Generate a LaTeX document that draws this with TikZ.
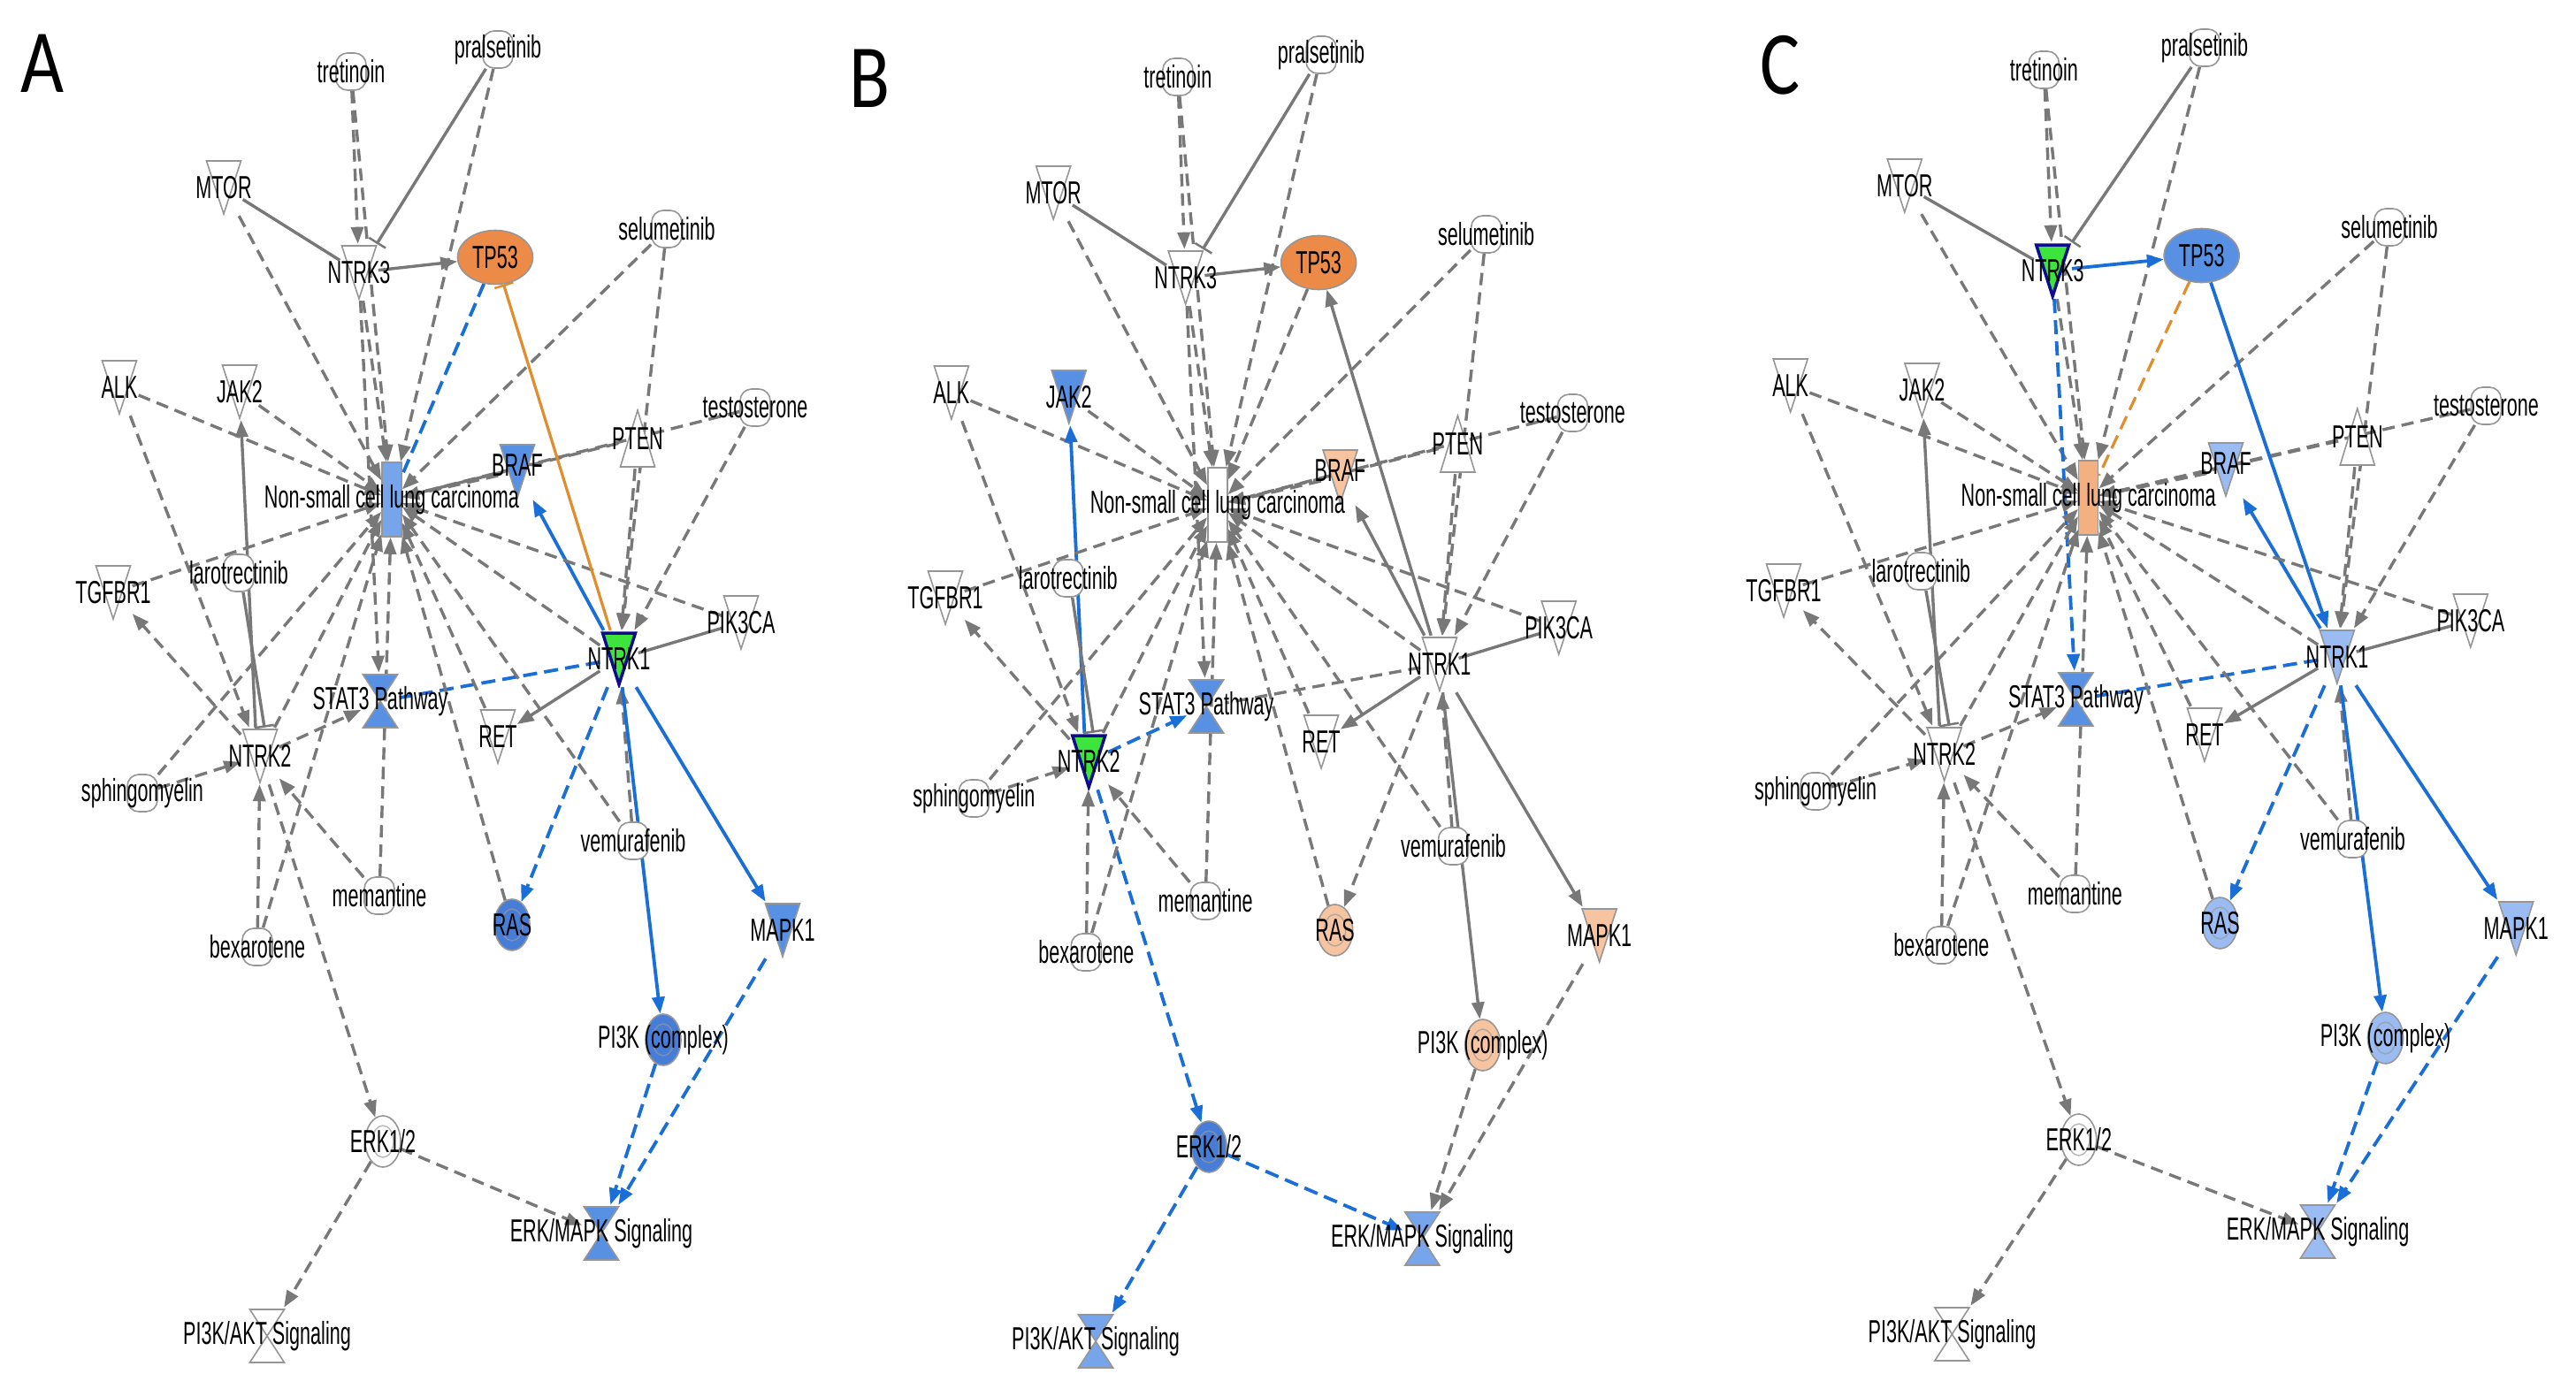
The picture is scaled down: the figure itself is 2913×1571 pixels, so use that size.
\documentclass[tikz,border=0pt]{standalone}
\usepackage{fontspec}
\setmainfont{Liberation Sans}
\newfontfamily\ipafont{Liberation Sans}[FakeStretch=0.6]
\newfontfamily\letterfont{Carlito}[FakeStretch=0.83]
\usetikzlibrary{arrows.meta, shapes.geometric, backgrounds}

\definecolor{edgegray}{RGB}{120,120,120}
\definecolor{nodegray}{RGB}{150,150,150}
\definecolor{edgeblue}{RGB}{25,110,215}
\definecolor{edgeorange}{RGB}{225,140,45}
\definecolor{ipaBlueDark}{RGB}{72,125,215}
\definecolor{ipaBlue}{RGB}{88,145,228}
\definecolor{ipaBlueLight}{RGB}{118,165,235}
\definecolor{ipaBluePale}{RGB}{155,188,242}
\definecolor{ipaOrange}{RGB}{236,138,72}
\definecolor{ipaOrangePale}{RGB}{246,196,160}
\definecolor{ipaOrangeLight}{RGB}{244,176,128}
\definecolor{hitgreen}{RGB}{60,228,60}
\definecolor{hitborder}{RGB}{12,12,140}

\tikzset{
  every label/.style={font=\ipafont\fontsize{36}{36}\selectfont, inner sep=0pt},
  shapeline/.style={draw=nodegray, line width=1.6pt},
  hitline/.style={draw=hitborder, line width=3.5pt, line join=miter},
  shapebox/.style={rectangle, inner sep=0pt, minimum width=43pt, minimum height=64pt},
  kinase/.style={shapebox, path picture={
      \draw[shapeline, fill=#1]
        ([xshift=2pt,yshift=-2pt]path picture bounding box.north west) --
        ([xshift=-2pt,yshift=-2pt]path picture bounding box.north east) --
        ([yshift=2pt]path picture bounding box.south) -- cycle;}},
  kinase/.default=white,
  kinasehit/.style={shapebox, path picture={
      \draw[hitline, fill=hitgreen]
        ([xshift=3pt,yshift=-3pt]path picture bounding box.north west) --
        ([xshift=-3pt,yshift=-3pt]path picture bounding box.north east) --
        ([yshift=3pt]path picture bounding box.south) -- cycle;}},
  phosphatase/.style={shapebox, minimum height=68pt, path picture={
      \draw[shapeline, fill=white]
        ([yshift=-2pt]path picture bounding box.north) --
        ([xshift=-2pt,yshift=2pt]path picture bounding box.south east) --
        ([xshift=2pt,yshift=2pt]path picture bounding box.south west) -- cycle;}},
  pathway/.style={shapebox, path picture={
      \draw[shapeline, fill=#1]
        ([xshift=2pt,yshift=-2pt]path picture bounding box.north west) --
        ([xshift=-2pt,yshift=-2pt]path picture bounding box.north east) --
        ([xshift=2pt,yshift=2pt]path picture bounding box.south west) --
        ([xshift=-2pt,yshift=2pt]path picture bounding box.south east) -- cycle;}},
  pathway/.default=white,
  drug/.style={rectangle, rounded corners=13pt, shapeline, fill=white, inner sep=0pt,
    minimum width=34pt, minimum height=42pt},
  complex/.style={ellipse, shapeline, fill=#1, inner sep=0pt, minimum width=40pt,
    minimum height=58pt, path picture={
      \draw[black!40, draw opacity=0.7, line width=1.4pt]
        (path picture bounding box.center) ellipse [x radius=12pt, y radius=18pt];}},
  complex/.default=white,
  tfactor/.style={ellipse, shapeline, fill=#1, inner sep=0pt, minimum width=85pt, minimum height=61pt},
  disease/.style={rectangle, shapeline, fill=#1, inner sep=0pt, minimum width=22pt, minimum height=84pt},
  rel/.style={draw=edgegray, line width=3.4pt, dash pattern=on 14pt off 8pt},
  dirrel/.style={draw=edgegray, line width=3.4pt},
  predblue/.style={draw=edgeblue, line width=3.8pt},
  predbluedash/.style={predblue, dash pattern=on 16pt off 8pt},
  predorange/.style={draw=edgeorange, line width=3.2pt},
  predorangedash/.style={predorange, dash pattern=on 16pt off 8pt},
  act/.style={-{Triangle[length=19pt,width=14pt]}},
  inh/.style={-{Bar[width=22pt,line width=2.5pt]}},
  panel/.style={font=\letterfont\fontsize{102}{102}\selectfont, inner sep=0pt},
}

% one network, drawn in the coordinates of panel A
\newcommand{\ipanet}{%
  \node[drug, label=center:tretinoin] (tret) at (397,81) {};
  \node[drug, label=center:pralsetinib] (prals) at (563,56) {};
  \node[kinase, label=center:MTOR] (mtor) at (253,212) {};
  \node[nodethree, label=center:NTRK3] (ntrk3) at (406,308) {};
  \node[tfactor=ftp, label=center:TP53] (tp53) at (560,291) {};
  \node[drug, label=center:selumetinib] (selu) at (754,259) {};
  \node[kinase, label=center:ALK] (alk) at (135,438) {};
  \node[kinase=fjak, label=center:JAK2] (jak2) at (271,443) {};
  \node[phosphatase, label=center:PTEN] (pten) at (721,496) {};
  \node[drug, label=center:testosterone] (testo) at (854,461) {};
  \node[kinase=fbraf, label={[yshift=7pt]center:BRAF}] (braf) at (585,533) {};
  \node[disease=fnsclc, label={center:Non-small cell lung carcinoma}] (nsclc) at (443,565) {};
  \node[kinase, label=center:TGFBR1] (tgfbr1) at (128,670) {};
  \node[drug, label=center:larotrectinib] (laro) at (270,648) {};
  \node[kinase, label=center:PIK3CA] (pik3ca) at (838,704) {};
  \node[nodeone, label=center:NTRK1] (ntrk1) at (700,745) {};
  \node[pathway=fstat, label={center:STAT3 Pathway}] (stat3) at (430,793) {};
  \node[kinase, label=center:RET] (ret) at (563,833) {};
  \node[nodetwo, label=center:NTRK2] (ntrk2) at (294,855) {};
  \node[drug, label=center:sphingomyelin] (sphingo) at (161,897) {};
  \node[drug, label=center:vemurafenib] (vemu) at (716,951) {};
  \node[drug, label=center:memantine] (meman) at (429,1013) {};
  \node[complex=fras, label=center:RAS] (ras) at (579,1046) {};
  \node[drug, label=center:bexarotene] (bexa) at (291,1071) {};
  \node[kinase=fmapk, label=center:MAPK1] (mapk1) at (885,1052) {};
  \node[complex=fpik, label={center:PI3K (complex)}] (pi3k) at (750,1176) {};
  \node[complex=ferk, label=center:ERK1/2] (erk) at (433,1291) {};
  \node[pathway=ferkmapk, label={center:ERK/MAPK Signaling}] (erkmapk) at (680,1395) {};
  \node[pathway=fakt, label={center:PI3K/AKT Signaling}] (pi3kakt) at (302,1511) {};
  \begin{scope}[on background layer]
    \draw[rel, act] (tret) -- (ntrk3);
    \draw[rel, act] (tret) -- (nsclc);
    \draw[dirrel, inh] (prals) -- (ntrk3);
    \draw[rel, act] (prals) -- (nsclc);
    \draw[dirrel] (mtor) -- (ntrk3);
    \draw[rel, act] (mtor) -- (nsclc);
    \draw[ethree, act] (ntrk3) -- (tp53);
    \draw[rel, act] (ntrk3) -- (nsclc);
    \draw[ethreedash, act] (ntrk3) -- (stat3);
    \draw[rel, act] (selu) -- (nsclc);
    \draw[rel, act] (selu) -- (ntrk1);
    \draw[rel, act] (alk) -- (nsclc);
    \draw[rel, act] (alk) -- (ntrk2);
    \draw[rel, act] (jak2) -- (nsclc);
    \draw[etwo, act] ([xshift=-5pt]ntrk2.north) -- (jak2);
    \draw[dirrel, inh] ([xshift=5pt]laro.south) -- ([xshift=5pt]ntrk2.north);
    \draw[rel, act] (tgfbr1) -- (nsclc);
    \draw[rel, act] (ntrk2) -- (tgfbr1);
    \draw[rel, act] (pten) -- (nsclc);
    \draw[rel, act] (testo) -- (nsclc);
    \draw[rel, act] (braf) -- (nsclc);
    \draw[rel, act] (testo) -- (ntrk1);
    \draw[rel, act] (pten) -- (ntrk1);
    \draw[eone, act] (ntrk1) -- (braf);
    \draw[rel, act] (pik3ca) -- (nsclc);
    \draw[dirrel] (pik3ca) -- (ntrk1);
    \draw[rel, act] (ntrk1) -- (nsclc);
    \draw[eonedash] (ntrk1) -- (stat3);
    \draw[dirrel, act] (ntrk1) -- (ret);
    \draw[rel, act] (vemu) -- (ntrk1);
    \draw[rel, act] (vemu) -- (nsclc);
    \draw[eonedash, act] (ntrk1) -- (ras);
    \draw[eone, act] (ntrk1) -- (pi3k);
    \draw[eone, act] (ntrk1) -- (mapk1);
    \draw[rel, act] (ret) -- (nsclc);
    \draw[rel, act] (ras) -- (nsclc);
    \draw[eonedash, act] (pi3k) -- (erkmapk);
    \draw[eonedash, act] (mapk1) -- (erkmapk);
    \draw[etwodash, act] (erk) -- (erkmapk);
    \draw[etwodash, act] (erk) -- (pi3kakt);
    \draw[etwodash, act] (ntrk2) -- (erk);
    \draw[etwodash, act] (ntrk2) -- (stat3);
    \draw[rel, act] (ntrk2) -- (nsclc);
    \draw[rel, act] (sphingo) -- (ntrk2);
    \draw[rel, act] (sphingo) -- (nsclc);
    \draw[rel, act] (bexa) -- (ntrk2);
    \draw[rel, act] (bexa) -- (nsclc);
    \draw[rel, act] (meman) -- (ntrk2);
    \draw[rel, act] (meman) -- (nsclc);
  \end{scope}
}

\begin{document}
\begin{tikzpicture}[x=1pt, y=-1pt]
\begin{scope}[on background layer]
  \fill[white] (0,0) rectangle (2913,1571);
\end{scope}
\useasboundingbox (0,0) rectangle (2913,1571);

% A: NTRK1
\begin{scope}
  \colorlet{fnsclc}{ipaBlueLight}
  \colorlet{ftp}{ipaOrange}
  \colorlet{fbraf}{ipaBlue}
  \colorlet{fjak}{white}
  \colorlet{fstat}{ipaBlue}
  \colorlet{fras}{ipaBlueDark}
  \colorlet{fmapk}{ipaBlue}
  \colorlet{fpik}{ipaBlueDark}
  \colorlet{ferk}{white}
  \colorlet{ferkmapk}{ipaBlue}
  \colorlet{fakt}{white}
  \tikzset{nodeone/.style={kinasehit}, nodetwo/.style={kinase}, nodethree/.style={kinase},
    eone/.style={predblue}, eonedash/.style={predbluedash},
    etwo/.style={dirrel}, etwodash/.style={rel},
    ethree/.style={dirrel}, ethreedash/.style={rel}}
  \ipanet
  \begin{scope}[on background layer]
    \draw[predorange, inh] (ntrk1) -- (tp53);
    \draw[predbluedash] (tp53) -- (nsclc);
  \end{scope}
\end{scope}

% B: NTRK2
\begin{scope}[xshift=944pt, yshift=-6pt, xscale=0.977]
  \colorlet{fnsclc}{white}
  \colorlet{ftp}{ipaOrange}
  \colorlet{fbraf}{ipaOrangePale}
  \colorlet{fjak}{ipaBlue}
  \colorlet{fstat}{ipaBlue}
  \colorlet{fras}{ipaOrangePale}
  \colorlet{fmapk}{ipaOrangePale}
  \colorlet{fpik}{ipaOrangePale}
  \colorlet{ferk}{ipaBlueDark}
  \colorlet{ferkmapk}{ipaBlueLight}
  \colorlet{fakt}{ipaBlueLight}
  \tikzset{nodeone/.style={kinase}, nodetwo/.style={kinasehit}, nodethree/.style={kinase},
    eone/.style={dirrel}, eonedash/.style={rel},
    etwo/.style={predblue}, etwodash/.style={predbluedash},
    ethree/.style={dirrel}, ethreedash/.style={rel}}
  \ipanet
  \begin{scope}[on background layer]
    \draw[dirrel, act] (ntrk1) -- (tp53);
    \draw[rel, act] (tp53) -- (nsclc);
  \end{scope}
\end{scope}

% C: NTRK3
\begin{scope}[xshift=1877pt, yshift=2pt, xscale=1.094]
  \colorlet{fnsclc}{ipaOrangeLight}
  \colorlet{ftp}{ipaBlue}
  \colorlet{fbraf}{ipaBluePale}
  \colorlet{fjak}{white}
  \colorlet{fstat}{ipaBlue}
  \colorlet{fras}{ipaBluePale}
  \colorlet{fmapk}{ipaBluePale}
  \colorlet{fpik}{ipaBluePale}
  \colorlet{ferk}{white}
  \colorlet{ferkmapk}{ipaBluePale}
  \colorlet{fakt}{white}
  \tikzset{nodeone/.style={kinase=ipaBluePale}, nodetwo/.style={kinase}, nodethree/.style={kinasehit},
    eone/.style={predblue}, eonedash/.style={predbluedash},
    etwo/.style={dirrel}, etwodash/.style={rel},
    ethree/.style={predblue}, ethreedash/.style={predbluedash}}
  \ipanet
  \begin{scope}[on background layer]
    \draw[predblue, act] (tp53) -- (ntrk1);
    \draw[predorangedash] (tp53) -- (nsclc);
  \end{scope}
\end{scope}

\node[panel] (labA) at (48,72) {A};
\node[panel] (labB) at (984,89) {B};
\node[panel] (labC) at (2013,74) {C};
\end{tikzpicture}
\end{document}
